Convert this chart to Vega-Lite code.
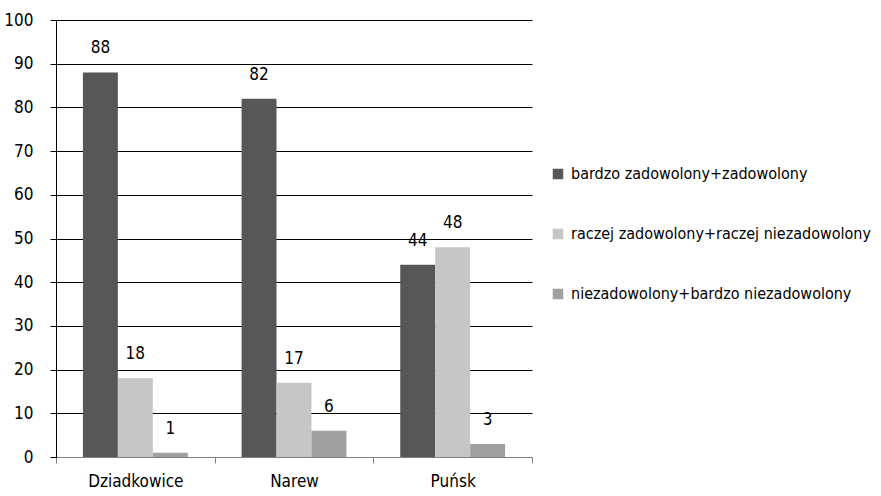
{
  "$schema": "https://vega.github.io/schema/vega-lite/v6.json",
  "width": 476,
  "height": 437,
  "autosize": {"type": "none"},
  "padding": {"left": 56, "top": 20, "right": 349, "bottom": 39},
  "background": "white",
  "config": {
    "view": {"stroke": null},
    "font": "DejaVu Sans Condensed, DejaVu Sans, sans-serif"
  },
  "data": {
    "values": [
      {"gmina": "Dziadkowice", "ocena": "bardzo zadowolony+zadowolony", "value": 88},
      {"gmina": "Dziadkowice", "ocena": "raczej zadowolony+raczej niezadowolony", "value": 18},
      {"gmina": "Dziadkowice", "ocena": "niezadowolony+bardzo niezadowolony", "value": 1},
      {"gmina": "Narew", "ocena": "bardzo zadowolony+zadowolony", "value": 82},
      {"gmina": "Narew", "ocena": "raczej zadowolony+raczej niezadowolony", "value": 17},
      {"gmina": "Narew", "ocena": "niezadowolony+bardzo niezadowolony", "value": 6},
      {"gmina": "Puńsk", "ocena": "bardzo zadowolony+zadowolony", "value": 44},
      {"gmina": "Puńsk", "ocena": "raczej zadowolony+raczej niezadowolony", "value": 48},
      {"gmina": "Puńsk", "ocena": "niezadowolony+bardzo niezadowolony", "value": 3}
    ]
  },
  "encoding": {
    "x": {
      "field": "gmina",
      "type": "nominal",
      "sort": ["Dziadkowice", "Narew", "Puńsk"],
      "scale": {"paddingInner": 0, "paddingOuter": 0},
      "axis": {
        "title": null,
        "labelAngle": 0,
        "labelFontSize": 17,
        "labelColor": "#000000",
        "labelPadding": 10,
        "tickBand": "extent",
        "tickSize": 6,
        "tickColor": "#808080",
        "domainColor": "#808080",
        "grid": false
      }
    },
    "xOffset": {
      "field": "ocena",
      "type": "nominal",
      "sort": ["bardzo zadowolony+zadowolony", "raczej zadowolony+raczej niezadowolony", "niezadowolony+bardzo niezadowolony"],
      "scale": {"paddingInner": 0, "paddingOuter": 0.77}
    },
    "y": {
      "field": "value",
      "type": "quantitative",
      "scale": {"domain": [0, 100], "nice": false},
      "axis": {
        "title": null,
        "values": [0, 10, 20, 30, 40, 50, 60, 70, 80, 90, 100],
        "labelFontSize": 17,
        "labelColor": "#000000",
        "labelPadding": 17,
        "tickSize": 6,
        "tickColor": "#000000",
        "domainColor": "#000000",
        "grid": true,
        "gridColor": "#000000",
        "gridOpacity": 1,
        "gridWidth": 1
      }
    }
  },
  "layer": [
    {
      "mark": {"type": "bar"},
      "encoding": {
        "color": {
          "field": "ocena",
          "type": "nominal",
          "sort": ["bardzo zadowolony+zadowolony", "raczej zadowolony+raczej niezadowolony", "niezadowolony+bardzo niezadowolony"],
          "scale": {
            "domain": ["bardzo zadowolony+zadowolony", "raczej zadowolony+raczej niezadowolony", "niezadowolony+bardzo niezadowolony"],
            "range": ["#575757", "#c6c6c6", "#a0a0a0"]
          },
          "legend": {
            "title": null,
            "orient": "none",
            "legendX": 494,
            "legendY": 146,
            "symbolType": "square",
            "symbolSize": 110,
            "symbolStrokeWidth": 0,
            "labelFontSize": 16,
            "labelColor": "#000000",
            "labelLimit": 400,
            "rowPadding": 44,
            "labelOffset": 5
          }
        }
      }
    },
    {
      "mark": {"type": "text", "fontSize": 17, "baseline": "middle", "dy": -24, "color": "#000000"},
      "encoding": {
        "text": {"field": "value", "type": "quantitative"}
      }
    }
  ]
}
